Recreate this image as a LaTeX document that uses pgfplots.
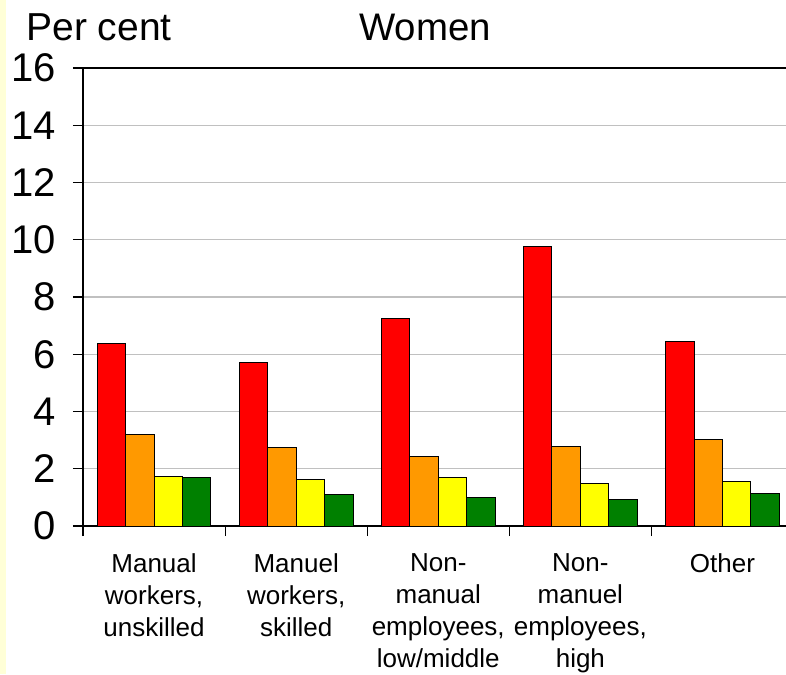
\documentclass[border=0pt]{standalone}
\usepackage{fontspec}
\setmainfont{Liberation Sans}
\usepackage{pgfplots}
\pgfplotsset{compat=1.18}
\definecolor{cred}{RGB}{255,0,0}
\definecolor{corange}{RGB}{255,153,0}
\definecolor{cyellow}{RGB}{255,255,0}
\definecolor{cgreen}{RGB}{0,128,0}
\definecolor{strip}{RGB}{255,255,215}
\definecolor{gridgray}{RGB}{192,192,192}
\begin{document}
\begin{tikzpicture}
\begin{axis}[
  name=ax,
  scale only axis,
  width=351.5pt, height=229pt,
  xmin=-0.5, xmax=4.447,
  ymin=0, ymax=16,
  ybar=0pt, bar width=0.2,
  axis x line=box, axis y line=left,
  axis line style={line width=0.7pt, -},
  xtick={-0.5,0.5,1.5,2.5,3.5}, xticklabels={},
  xtick pos=bottom, ytick pos=left,
  tick align=outside,
  major tick length=5pt,
  tick style={line width=0.6pt, black},
  extra x ticks={0,1,2,3,4},
  extra x tick labels={{Manual\\workers,\\unskilled},{Manuel\\workers,\\skilled},{Non-\\manual\\employees,\\low/middle},{Non-\\manuel\\employees,\\high},{Other}},
  extra x tick style={major tick length=0pt, tick style={draw=none}},
  x tick label style={align=center, anchor=north, font=\fontsize{13}{16}\selectfont, yshift=-10.5pt},
  ytick={0,2,...,16},
  ymajorgrids,
  grid style={gridgray, line width=0.6pt},
  y tick label style={font=\fontsize{20}{24}\selectfont, xshift=-5pt},
  /pgf/number format/assume math mode=true,
  every axis plot/.append style={draw=black, line width=0.5pt},
  clip=false,
]
\addplot[fill=cred] coordinates {(0,6.39) (1,5.71) (2,7.26) (3,9.77) (4,6.46)};
\addplot[fill=corange] coordinates {(0,3.19) (1,2.73) (2,2.43) (3,2.78) (4,3.02)};
\addplot[fill=cyellow] coordinates {(0,1.73) (1,1.63) (2,1.68) (3,1.50) (4,1.56)};
\addplot[fill=cgreen] coordinates {(0,1.68) (1,1.11) (2,0.99) (3,0.93) (4,1.15)};
\end{axis}
\node[anchor=base west, inner sep=0pt, font=\fontsize{19.5}{23}\selectfont] at ([xshift=-28.5pt, yshift=13.7pt]ax.north west) {Per cent};
\node[anchor=base, inner sep=0pt, font=\fontsize{19.2}{23}\selectfont] at ([xshift=171pt, yshift=13.7pt]ax.north west) {Women};
\pgfresetboundingbox
\fill[strip] ([xshift=-41.5pt, yshift=-74pt]ax.south west) rectangle ++(2.8pt,337pt);
\path[use as bounding box] ([xshift=-41.5pt, yshift=-74pt]ax.south west) rectangle ++(393pt,337pt);
\end{tikzpicture}
\end{document}
